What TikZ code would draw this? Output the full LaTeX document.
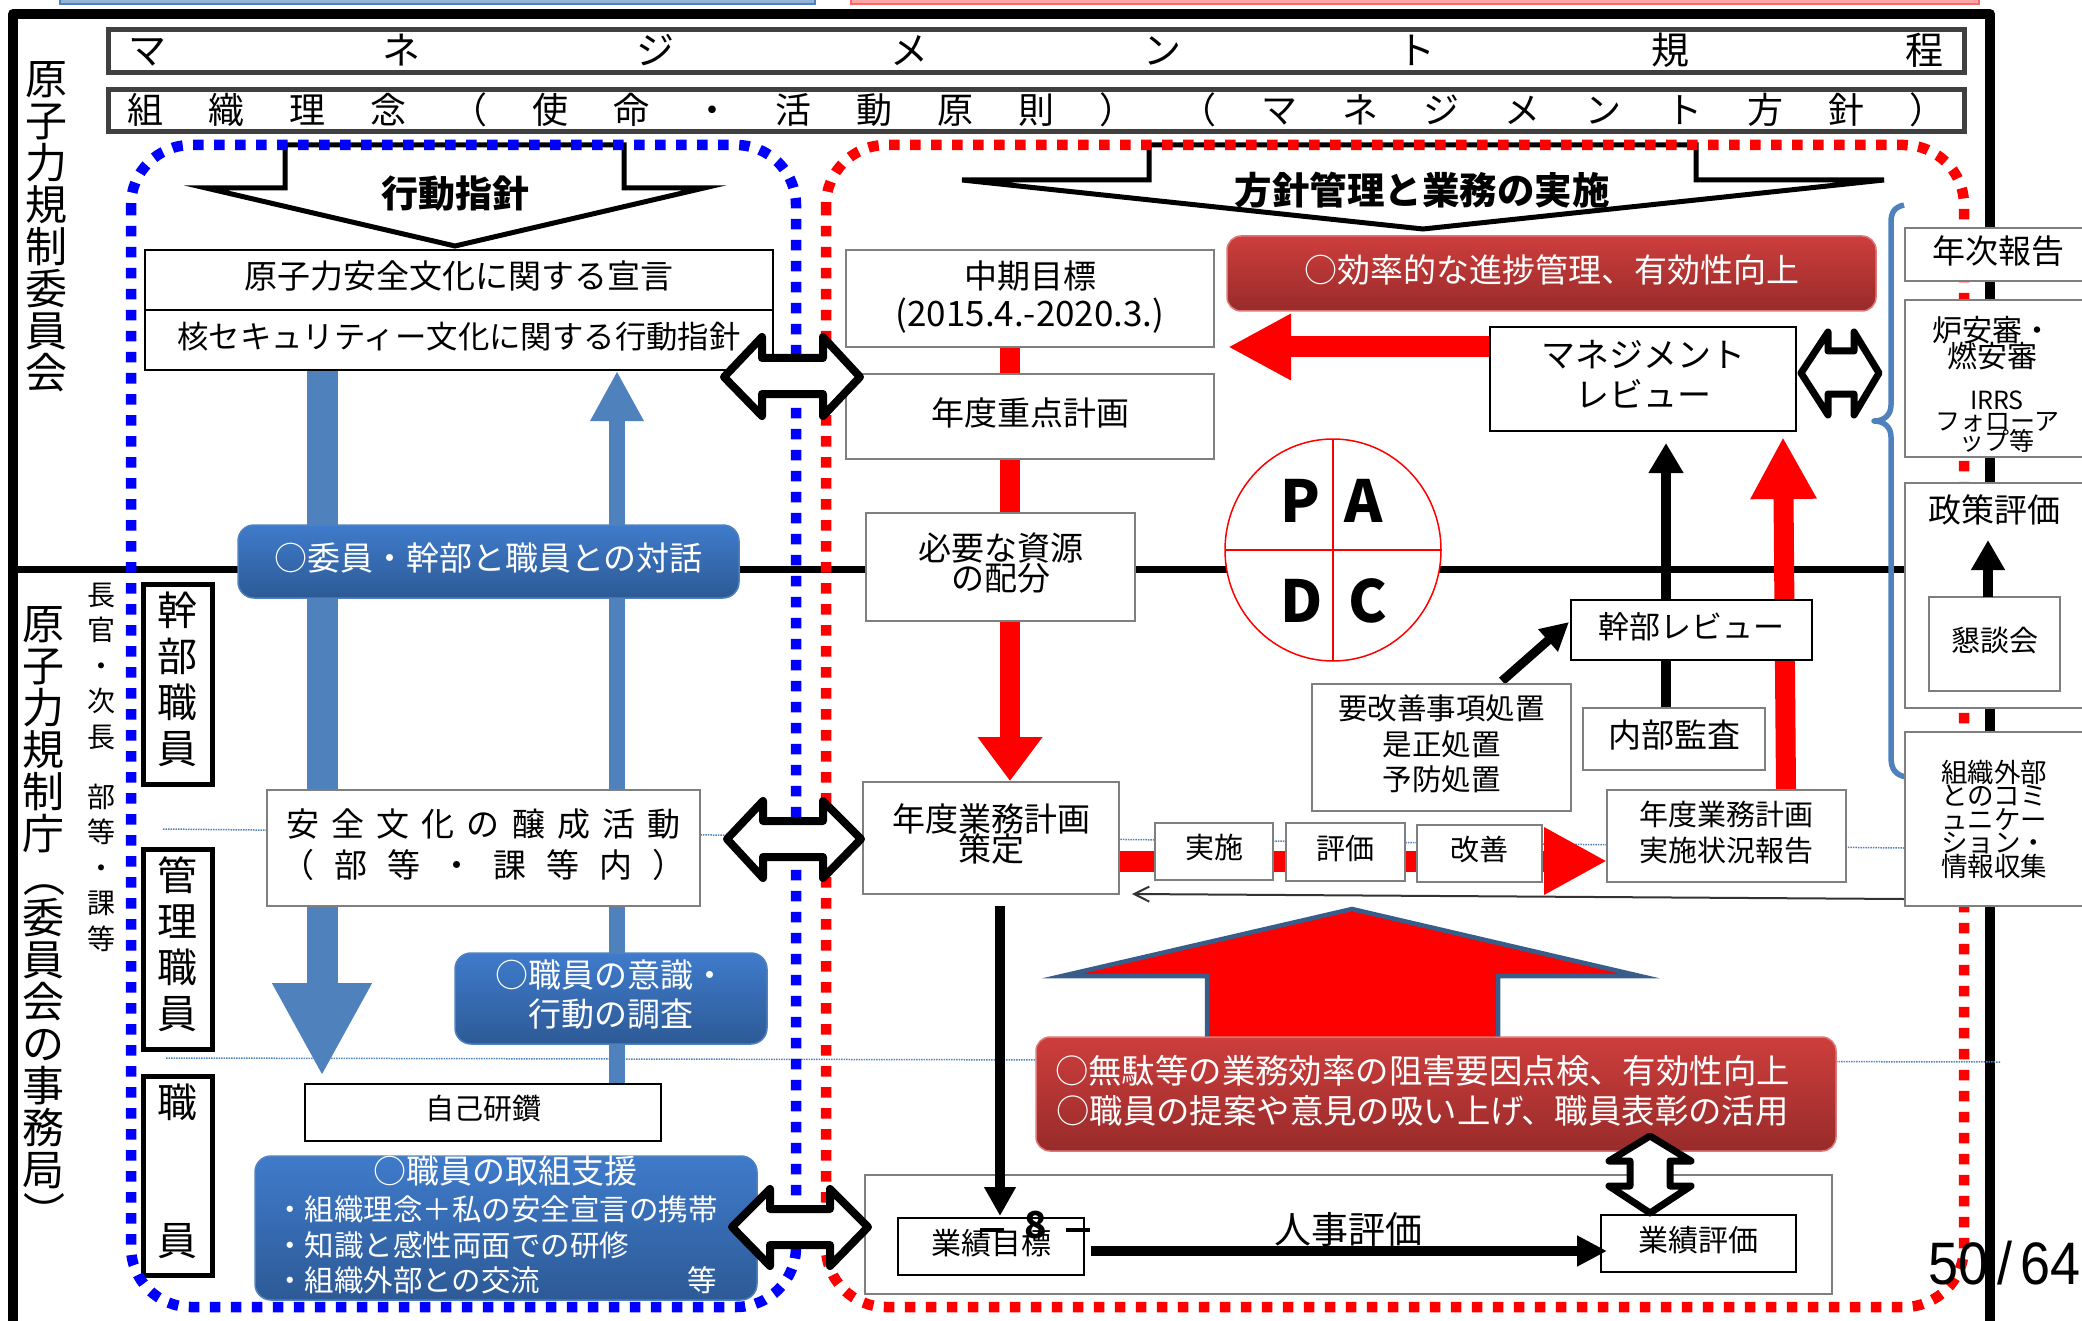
\documentclass[tikz,border=0pt]{standalone}
\usepackage{fontspec}
\setmainfont{Noto Sans CJK JP}
\newfontfamily\pagefont{Liberation Sans}
\usetikzlibrary{arrows.meta,shapes.geometric}
\lineskiplimit=-200pt
\definecolor{armblue}{HTML}{4F81BD}
\definecolor{edgeblue}{HTML}{385D8A}
\definecolor{grayline}{HTML}{7F7F7F}
\definecolor{darkframe}{HTML}{404040}
\definecolor{bluetop}{HTML}{3F7BCB}
\definecolor{bluebot}{HTML}{2D5A96}
\definecolor{redtop}{HTML}{CD3E3C}
\definecolor{redbot}{HTML}{982B2A}
\newcommand{\fs}[1]{\fontsize{#1}{#1}\selectfont}
\newcommand{\fsb}[2]{\fontsize{#2}{#1}\selectfont}
\newcommand{\bx}[7]{\node[#1,anchor=north west,minimum width={(#5-#3)*1pt},minimum height={(#6-#4)*1pt}] (#2) at (#3,#4) {#7};}
\newcommand{\vparen}[1]{\rotatebox[origin=c]{-90}{#1}}
\tikzset{
  lift/.style={execute at end node={\rule[\dimexpr-0.3em-#1pt\relax]{0pt}{0pt}}},
  gbox/.style={draw=grayline,line width=2,fill=white,inner sep=0,outer sep=0,align=center,font=\fs{33},text=black,lift=0},
  kbox/.style={draw=black,line width=2,fill=white,inner sep=0,outer sep=0,align=center,font=\fs{33},text=black,lift=0},
  hbox/.style={draw=black,line width=5,fill=white,inner sep=0,outer sep=0,align=center,font=\fsb{46}{40},text=black,lift=0},
  titlebox/.style={draw=darkframe,line width=5,fill=white,inner sep=0,outer sep=0,align=center,font=\fs{38},text=black,lift=-6.4},
  bluepill/.style={draw=armblue,line width=1.5,top color=bluetop,bottom color=bluebot,rounded corners=16,inner sep=0,outer sep=0,align=center,font=\fs{33},text=white,lift=0},
  redpill/.style={draw=redtop!70!white,line width=1.5,top color=redtop,bottom color=redbot,rounded corners=14,inner sep=0,outer sep=0,align=center,font=\fs{33},text=white,lift=0},
  txt/.style={inner sep=0,outer sep=0,align=center,text=black},
  vtext/.style={inner sep=0,outer sep=0,align=center,text=black},
  dblarrow/.style={draw=black,fill=white,line width=8,line join=round},
  dotline/.style={draw=armblue,line width=1.5,densely dotted}
}
\begin{document}
\begin{tikzpicture}[x=1pt,y=-1pt]
\useasboundingbox (0,0) rectangle (2082,1321);
\clip (0,0) rectangle (2082,1321);
% top strips
\path[draw=armblue,fill=armblue!60!white,line width=1.5] (60,-4) rectangle (815,4);
\path[draw=red!60!white,fill=red!35!white,line width=1.5] (851,-4) rectangle (1979,4);
% frame
\draw[line width=10,line join=round] (13,1330) -- (13,14) -- (1990,14) -- (1990,1330);
\coordinate (midL) at (18,569);
\coordinate (midR) at (1990,569);
\draw[line width=7] (midL) -- (midR);
\coordinate (dotA) at (163,829);
\coordinate (dotB) at (1904,848);
\coordinate (dotC) at (166,1058);
\coordinate (dotD) at (2000,1062);
\draw[dotline] (dotA) -- (dotB);
\draw[dotline] (dotC) -- (dotD);
% title bands
\bx{titlebox}{ttl}{108}{30}{1964}{73}{\makebox[1815pt][s]{マ\hfill ネ\hfill ジ\hfill メ\hfill ン\hfill ト\hfill 規\hfill 程}}
\bx{titlebox}{ttlb}{108}{90}{1964}{132}{\makebox[1818pt][s]{\fs{36}組\hfill 織\hfill 理\hfill 念\hfill （\hfill 使\hfill 命\hfill ・\hfill 活\hfill 動\hfill 原\hfill 則\hfill ）\hfill （\hfill マ\hfill ネ\hfill ジ\hfill メ\hfill ン\hfill ト\hfill 方\hfill 針\hfill ）}}
% vertical side labels
\node[vtext,font=\fs{42}] (committee) at (46,227) {原\\子\\力\\規\\制\\委\\員\\会};
\node[vtext,font=\fs{42}] (agency) at (44,920) {原\\子\\力\\規\\制\\庁\\\vparen{（}\\委\\員\\会\\の\\事\\務\\局\\\vparen{）}};
\node[vtext,font=\fsb{35.5}{28}] (ranks) at (101,767) {長\\官\\・\\次\\長\\[24.5pt]部\\等\\・\\課\\等};
\bx{hbox}{hA}{143}{584}{212}{784}{幹\\部\\職\\員}
\bx{hbox}{hB}{143}{849}{212}{1049}{管\\理\\職\\員}
\bx{hbox}{hC}{143}{1076}{212}{1275}{職\\[92pt]員}
% header arrows
\draw[draw=black,fill=white,line width=5] (285,145) -- (285,188) -- (206,188) -- (455,246) -- (704,188) -- (624,188) -- (624,145) -- cycle;
\draw[draw=black,fill=white,line width=5] (1149,145) -- (1149,180) -- (962,180) -- (1423,229) -- (1884,180) -- (1696,180) -- (1696,145) -- cycle;
% dashed regions
\draw[blue,line width=10.5,dash pattern=on 10.5 off 10.5,rounded corners=60] (131,145) rectangle (796,1307);
\draw[red,line width=10.5,dash pattern=on 10.5 off 10.5,rounded corners=60] (826,145) rectangle (1964,1307);
\node[txt,font=\fs{37}\bfseries] (hdA) at (455,194) {行動指針};
\node[txt,font=\fs{37.5}\bfseries] (hdB) at (1422,190) {方針管理と業務の実施};
% named ends of the arrows
\coordinate (aTop) at (322,370);
\coordinate (aBot) at (322,1076);
\coordinate (bBot) at (617,1084);
\coordinate (bTop) at (617,371);
\coordinate (cTop) at (1010,347);
\coordinate (cBot) at (1010,781);
\coordinate (dTop) at (1000,906);
\coordinate (dBot) at (1000,1216);
\coordinate (eL) at (1091,1251);
\coordinate (eR) at (1607,1251);
\coordinate (fR) at (1490,347);
\coordinate (fL) at (1228,347);
\coordinate (gL) at (1119,861);
\coordinate (gR) at (1607,861);
\coordinate (hBot) at (1666,708);
\coordinate (hTop) at (1666,443);
\coordinate (iBot) at (1786,790);
\coordinate (iTop) at (1783,437);
\coordinate (jA) at (1502,681);
\coordinate (jB) at (1569,622);
\coordinate (kBot) at (1988,597);
\coordinate (kTop) at (1988,540);
\coordinate (lR) at (1904,899);
\coordinate (lL) at (1132,894);
% arrows under the boxes
\draw[armblue,line width=31,-{Triangle[length=93pt,width=93pt]}] (aTop) -- (aBot);
\draw[armblue,line width=16,-{Triangle[length=50pt,width=50pt]}] (bBot) -- (bTop);
\draw[red,line width=20,-{Triangle[length=44pt,width=62pt]}] (cTop) -- (cBot);
\draw[red,line width=21,-{Triangle[length=63pt,width=62pt]}] (fR) -- (fL);
\draw[red,line width=21,-{Triangle[length=63pt,width=63pt]}] (gL) -- (gR);
\draw[black,line width=10,-{Triangle[length=30pt,width=33pt]}] (hBot) -- (hTop);
\draw[red,line width=20,-{Triangle[length=62pt,width=62pt]}] (iBot) -- (iTop);
\draw[black,line width=9,-{Triangle[length=28pt,width=28pt]}] (jA) -- (jB);
% big red arrow
\draw[draw=edgeblue,fill=red,line width=4.5] (1207,1045) -- (1207,976) -- (1062,976) -- (1352,909) -- (1640,976) -- (1498,976) -- (1498,1045) -- cycle;
% left column
\bx{kbox}{decl}{145}{250}{773}{310}{原子力安全文化に関する宣言}
\bx{kbox}{guide}{145}{310}{773}{370}{\fs{31.4}核セキュリティー文化に関する行動指針}
\bx{bluepill}{talk}{238}{525}{739}{598}{○委員・幹部と職員との対話}
\bx{gbox,lift=-2}{culture}{267}{790}{700}{906}{\makebox[394pt][s]{安\hfill 全\hfill 文\hfill 化\hfill の\hfill 醸\hfill 成\hfill 活\hfill 動}\\[8pt]\makebox[405pt][s]{（\hfill 部\hfill 等\hfill ・\hfill 課\hfill 等\hfill 内\hfill ）}}
\bx{bluepill,font=\fsb{39}{33}}{survey}{455}{953}{767}{1044}{○職員の意識・\\行動の調査}
\bx{kbox}{study}{305}{1084}{661}{1141}{\fs{29}自己研鑽}
\bx{bluepill}{support}{255}{1156}{757}{1300}{}
\node[txt,text=white,font=\fs{33}] (supT) at (505,1171) {○職員の取組支援};
\node[txt,text=white,font=\fs{29.5},anchor=west] (supA) at (275,1209) {・組織理念＋私の安全宣言の携帯};
\node[txt,text=white,font=\fs{29.5},anchor=west] (supB) at (275,1245) {・知識と感性両面での研修};
\node[txt,text=white,font=\fs{29.5},anchor=west] (supC) at (275,1280) {・組織外部との交流};
\node[txt,text=white,font=\fs{29.5}] (supD) at (702,1280) {等};
% centre column
\bx{gbox,font=\fsb{38}{33}}{midterm}{846}{250}{1214}{347}{中期目標\\{\fontsize{35}{38}\selectfont (2015.4.-2020.3.)}}
\bx{gbox}{yearplan}{846}{374}{1214}{459}{年度重点計画}
\bx{gbox,font=\fsb{30}{33}}{resource}{866}{513}{1135}{621}{必要な資源\\の配分}
\bx{gbox,font=\fsb{30}{33}}{workplan}{863}{782}{1119}{894}{年度業務計画\\策定}
\bx{gbox}{frameB}{865}{1175}{1832}{1294}{}
\bx{kbox}{target}{898}{1218}{1084}{1275}{\fs{30}業績目標}
\node[txt,font=\fs{37}\bfseries] (eight) at (1036,1225) {8};
\draw[line width=4] (980,1230) -- (1004,1230);
\draw[line width=4] (1066,1230) -- (1090,1230);
\draw[black,line width=10,-{Triangle[length=29pt,width=30pt]}] (dTop) -- (dBot);
\bx{kbox}{result}{1601}{1215}{1796}{1272}{\fs{30}業績評価}
\node[txt,font=\fs{37}] (hr) at (1348,1229) {人事評価};
\draw[black,line width=10.5,-{Triangle[length=30pt,width=29pt]}] (eL) -- (eR);
% PDCA
\node[draw=red,line width=1.5,fill=white,ellipse,minimum width=216,minimum height=222,inner sep=0,outer sep=0] (pdca) at (1333,550) {};
\draw[red,line width=1.5] (pdca.north) -- (pdca.south);
\draw[red,line width=1.5] (pdca.west) -- (pdca.east);
\node[txt,font=\fs{58}\bfseries] (lP) at (1300,501) {P};
\node[txt,font=\fs{58}\bfseries] (lA) at (1364,501) {A};
\node[txt,font=\fs{58}\bfseries] (lD) at (1302,601) {D};
\node[txt,font=\fs{58}\bfseries] (lC) at (1368,601) {C};
% right of centre
\bx{redpill}{progress}{1227}{236}{1876}{311}{○効率的な進捗管理、有効性向上}
\bx{kbox,font=\fsb{40}{34}}{review}{1490}{327}{1796}{431}{マネジメント\\レビュー}
\bx{kbox}{execrev}{1571}{600}{1812}{660}{\fs{31}幹部レビュー}
\bx{gbox,font=\fsb{35.5}{29.5}}{fix}{1312}{684}{1571}{811}{要改善事項処置\\是正処置\\予防処置}
\bx{gbox}{audit}{1583}{708}{1765}{770}{内部監査}
\bx{gbox,font=\fsb{36}{29}}{report}{1607}{790}{1846}{882}{年度業務計画\\実施状況報告}
\bx{gbox}{doA}{1155}{823}{1273}{880}{\fs{29}実施}
\bx{gbox}{doB}{1286}{823}{1405}{881}{\fs{29}評価}
\bx{gbox}{doC}{1417}{825}{1542}{882}{\fs{29}改善}
\bx{redpill,font=\fsb{40}{33.4}}{waste}{1036}{1037}{1836}{1151}{○無駄等の業務効率の阻害要因点検、有効性向上\hspace*{27pt}\\○職員の提案や意見の吸い上げ、職員表彰の活用\hspace*{27pt}}
% hollow double arrows
\draw[dblarrow] (724,377) -- (762,337) -- (762,358) -- (823,358) -- (823,337) -- (860,377) -- (823,416) -- (823,394) -- (762,394) -- (762,416) -- cycle;
\draw[dblarrow] (727,839) -- (763,801) -- (763,821) -- (823,821) -- (823,801) -- (861,839) -- (823,878) -- (823,857) -- (763,857) -- (763,878) -- cycle;
\draw[dblarrow] (732,1227) -- (770,1189) -- (770,1209) -- (830,1209) -- (830,1189) -- (868,1227) -- (830,1266) -- (830,1245) -- (770,1245) -- (770,1266) -- cycle;
\draw[dblarrow,line width=7] (1801,373) -- (1828,332) -- (1828,351) -- (1854,351) -- (1854,332) -- (1879,373) -- (1854,415) -- (1854,394) -- (1828,394) -- (1828,415) -- cycle;
\draw[dblarrow,line width=7] (1650,1136) -- (1691,1161) -- (1670,1161) -- (1670,1186) -- (1691,1186) -- (1650,1213) -- (1609,1186) -- (1630,1186) -- (1630,1161) -- (1609,1161) -- cycle;
% brace
\draw[armblue,line width=5.5,line join=round] (1904,205) .. controls (1895,207) and (1891,212) .. (1891,222) -- (1891,405) .. controls (1891,415) and (1884,421) .. (1874,421) .. controls (1884,421) and (1891,427) .. (1891,437) -- (1891,757) .. controls (1891,770) and (1896,775) .. (1906,777);
% right boxes
\bx{gbox}{annual}{1905}{228}{2092}{281}{年次報告}
\bx{gbox}{safety}{1905}{300}{2092}{457}{}
\node[txt,font=\fsb{26}{30}] (safA) at (1992,343) {炉安審・\\燃安審};
\node[txt,font=\fsb{20.5}{25}] (safB) at (1997,422) {IRRS\\フォローア\\ップ等};
\bx{gbox}{policy}{1905}{483}{2092}{708}{}
\node[txt,font=\fs{33}] (polT) at (1994,510) {政策評価};
\bx{gbox}{meet}{1929}{597}{2060}{691}{\fs{29}懇談会}
\draw[black,line width=10,-{Triangle[length=30pt,width=32pt]}] (kBot) -- (kTop);
\bx{gbox}{external}{1905}{732}{2092}{906}{}
\node[txt,font=\fsb{23.5}{26.5}] (extT) at (1994,819) {組織外部\\とのコミ\\ュニケー\\ション・\\情報収集};
\draw[draw=black!80,line width=2,-{Straight Barb[length=15pt,width=15pt]}] (lR) -- (lL);
% page number
\node[txt,font=\pagefont\fs{54}] (page) at (2004.5,1263) {\scalebox{1}[1.11]{50\kern8pt/\kern8pt 64}};
\end{tikzpicture}
\end{document}
